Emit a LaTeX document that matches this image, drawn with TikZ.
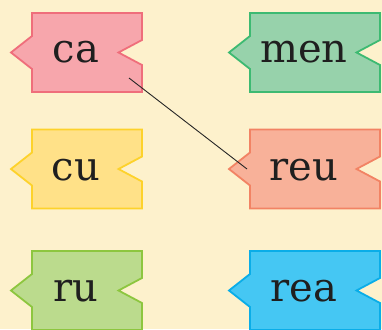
\documentclass[tikz,border=0pt]{standalone}
\usepackage{fontspec}
\setmainfont{DejaVu Serif}
\definecolor{bg}{HTML}{FDF1CC}
\definecolor{pinkF}{HTML}{F7A6AC}\definecolor{pinkD}{HTML}{EF6E7B}
\definecolor{greenF}{HTML}{97D2AB}\definecolor{greenD}{HTML}{3DBA72}
\definecolor{yelF}{HTML}{FFE188}\definecolor{yelD}{HTML}{FDD22B}
\definecolor{salF}{HTML}{F8B199}\definecolor{salD}{HTML}{F28364}
\definecolor{limeF}{HTML}{BBDB8D}\definecolor{limeD}{HTML}{8DC63F}
\definecolor{blueF}{HTML}{45C7F3}\definecolor{blueD}{HTML}{0AADE8}
\newcommand\tagshape[5]{%
\filldraw[tagline, fill=#4, draw=#5] (#1,#3-39.5) -- (#2,#3-39.5) -- (#2,#3-12.5) -- (#2-23.5,#3) -- (#2,#3+12.5) -- (#2,#3+39.5) -- (#1,#3+39.5) -- (#1,#3+16.5) -- (#1-21,#3) -- (#1,#3-16.5) -- cycle;}
\begin{document}
\begin{tikzpicture}[x=1pt,y=-1pt,
  tagline/.style={line width=1.8pt, line join=miter},
  word/.style={anchor=base, inner sep=0pt, font=\fontsize{40}{42}\selectfont, text=black!88}]
\useasboundingbox (0,0) rectangle (382,329);
\fill[bg] (0,0) rectangle (382,329);
\tagshape{32}{142}{52.5}{pinkF}{pinkD}
\tagshape{250}{380}{52.5}{greenF}{greenD}
\tagshape{32}{142}{169}{yelF}{yelD}
\tagshape{250}{380}{169}{salF}{salD}
\tagshape{32}{142}{290.5}{limeF}{limeD}
\tagshape{250}{380}{290.5}{blueF}{blueD}
\node[word] (ca) at (76,63) {ca};
\node[word] (men) at (304,63) {men};
\node[word] (cu) at (76,180) {cu};
\node[word] (reu) at (304,180) {reu};
\node[word] (ru) at (76,301) {ru};
\node[word] (rea) at (304,301) {rea};
\coordinate (p1) at (129,78);
\coordinate (p2) at (247,169);
\draw[line width=0.9pt, black!85] (p1) -- (p2);
\end{tikzpicture}
\end{document}
